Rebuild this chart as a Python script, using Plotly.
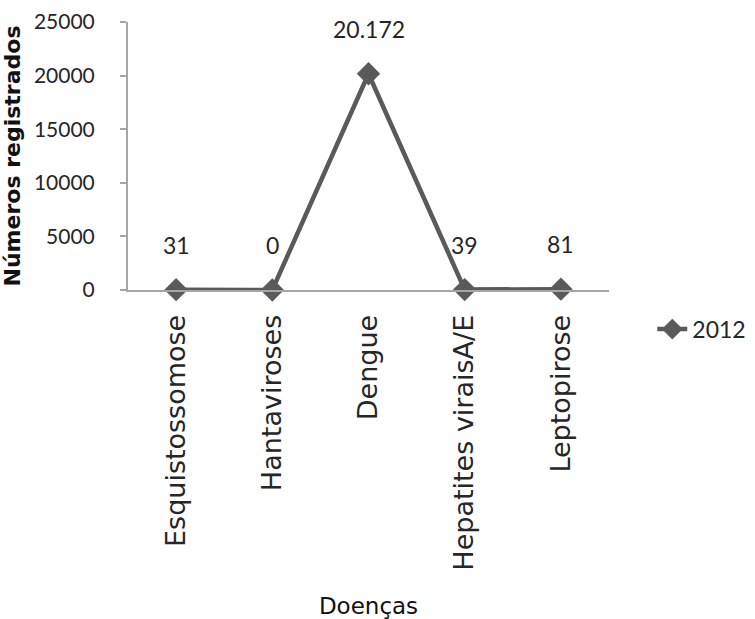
import plotly.graph_objects as go

# Doenças notificadas em 2012
doencas = ["Esquistossomose", "Hantaviroses", "Dengue", "Hepatites viraisA/E", "Leptopirose"]
casos_2012 = [31, 0, 20172, 39, 81]
y_ticks = [0, 5000, 10000, 15000, 20000, 25000]

LINE_COLOR = "#5a5a5a"
AXIS_COLOR = "#a6a6a6"
TEXT_COLOR = "#262626"
FONT = "Lato, 'Open Sans', sans-serif"
WIDE_FONT = "'DejaVu Sans', sans-serif"


def fmt_pt(v):
    # separador de milhar no padrão brasileiro
    return f"{v:,}".replace(",", ".")


fig = go.Figure()
fig.add_trace(go.Scatter(
    x=doencas,
    y=casos_2012,
    mode="lines+markers",
    name="2012",
    line=dict(color=LINE_COLOR, width=4.5),
    marker=dict(symbol="diamond", size=18, color=LINE_COLOR),
    cliponaxis=False,
))

for d, v in zip(doencas, casos_2012):
    fig.add_annotation(
        x=d, y=v, text=fmt_pt(v), showarrow=False,
        yshift=45, font=dict(family=FONT, size=23, color=TEXT_COLOR),
    )

fig.update_layout(
    width=755, height=619,
    margin=dict(l=128, r=146, t=22, b=329, autoexpand=False),
    paper_bgcolor="white", plot_bgcolor="white",
    font=dict(family=FONT, color=TEXT_COLOR),
    showlegend=True,
    legend=dict(
        x=1.09, y=-0.146, xanchor="left", yanchor="middle",
        font=dict(family=FONT, size=23, color=TEXT_COLOR),
        bgcolor="rgba(0,0,0,0)",
    ),
    xaxis=dict(
        type="category", automargin=False,
        showline=True, linecolor=AXIS_COLOR, linewidth=2,
        showgrid=False, zeroline=False,
        ticks="", tickangle=-90, ticklabelstandoff=12,
        tickfont=dict(family=WIDE_FONT, size=27, color=TEXT_COLOR),
        title=dict(text="Doenças", font=dict(family=WIDE_FONT, size=23, color="#111111"), standoff=42),
        range=[-0.5, 4.5],
    ),
    yaxis=dict(
        range=[0, 25000], tickvals=y_ticks, automargin=False,
        ticktext=[str(t) for t in y_ticks],
        showline=True, linecolor=AXIS_COLOR, linewidth=2,
        showgrid=False, zeroline=False,
        ticks="outside", ticklen=6, tickcolor=AXIS_COLOR, tickwidth=2,
        ticklabelstandoff=21,
        tickfont=dict(family=FONT, size=21, color=TEXT_COLOR),
        title=dict(text="<b>Números registrados</b>", font=dict(family=WIDE_FONT, size=22, color="#111111"), standoff=10),
    ),
)

fig.write_html("out.html")
